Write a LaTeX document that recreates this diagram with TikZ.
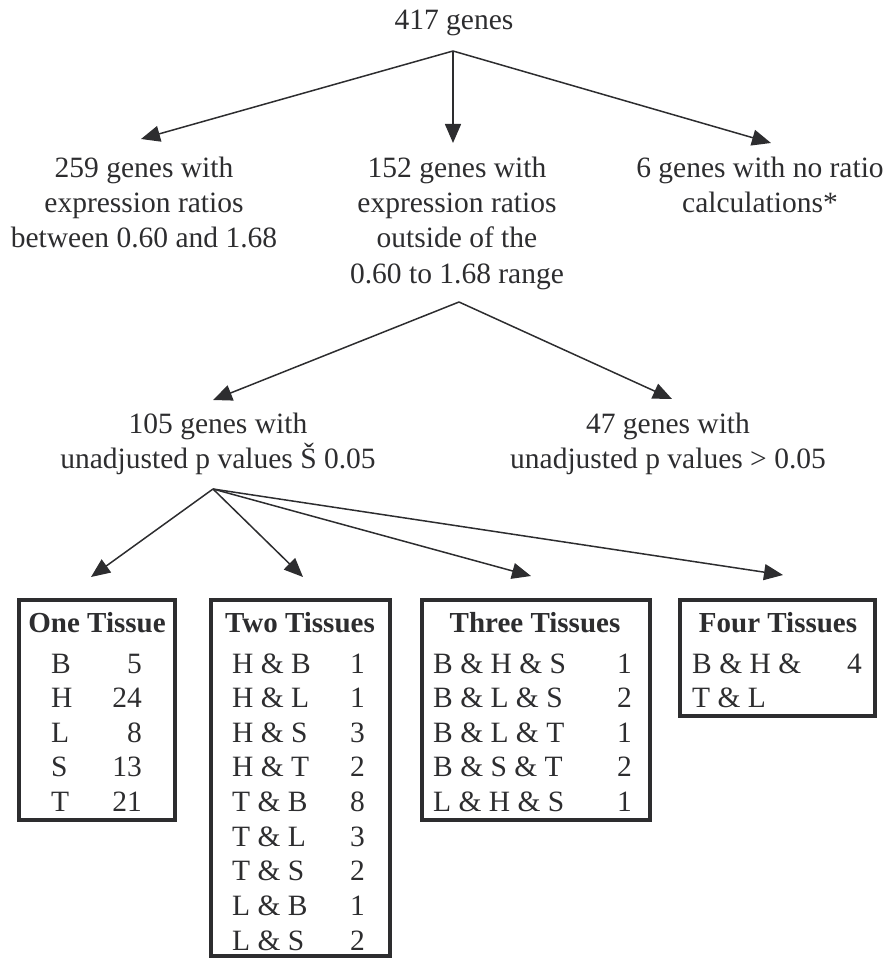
\documentclass[tikz,border=0pt]{standalone}
\usepackage{fontspec}
\setmainfont{Liberation Serif}
\usetikzlibrary{arrows.meta}
\definecolor{ink}{RGB}{45,45,47}
\begin{document}
\begin{tikzpicture}[x=1pt,y=-1pt,
  txt/.style={inner sep=0pt, anchor=base, text=ink, font=\fontsize{29.5}{35}\selectfont},
  ttl/.style={txt, font=\fontsize{29}{35}\selectfont\bfseries},
  lft/.style={txt, anchor=base west},
  rgt/.style={txt, anchor=base east},
  box/.style={draw=ink, line width=4pt, inner sep=0pt},
  arr/.style={draw=ink, line width=1.5pt, -{Triangle[length=19pt,width=16pt]}}]
\useasboundingbox (0,0) rectangle (885,960);

% level 0
\node[txt] (top) at (454,30) {417 genes};
% level 1
\node[txt] (n259) at (144,178) {\begin{tabular}[t]{@{}c@{}}259 genes with\\expression ratios\\between 0.60 and 1.68\end{tabular}};
\node[txt] (n152) at (457,178) {\begin{tabular}[t]{@{}c@{}}152 genes with\\expression ratios\\outside of the\\0.60 to 1.68 range\end{tabular}};
\node[txt] (n6) at (760,178) {\begin{tabular}[t]{@{}c@{}}6 genes with no ratio\\calculations*\end{tabular}};
% level 2
\node[txt] (n105) at (218,433) {\begin{tabular}[t]{@{}c@{}}105 genes with\\unadjusted p values Š 0.05\end{tabular}};
\node[txt] (n47) at (668,433) {\begin{tabular}[t]{@{}c@{}}47 genes with\\unadjusted p values > 0.05\end{tabular}};

% arrows
\coordinate (o0) at (453,51);
\coordinate (t259) at (141,139);
\coordinate (t152) at (453,143);
\coordinate (t6) at (771,143);
\draw[arr] (o0) -- (t259);
\draw[arr] (o0) -- (t152);
\draw[arr] (o0) -- (t6);

\coordinate (o1) at (459,302);
\coordinate (t105) at (213,400);
\coordinate (t47) at (672,399);
\draw[arr] (o1) -- (t105);
\draw[arr] (o1) -- (t47);

\coordinate (o2) at (213,489);
\coordinate (tb1) at (91,577);
\coordinate (tb2) at (303,577);
\coordinate (tb3) at (531,576);
\coordinate (tb4) at (783,575);
\draw[arr] (o2) -- (tb1);
\draw[arr] (o2) -- (tb2);
\draw[arr] (o2) -- (tb3);
\draw[arr] (o2) -- (tb4);

% boxes
\node[box, minimum width=156pt, minimum height=220pt] (box1) at (97,710) {};
\node[box, minimum width=179pt, minimum height=356pt] (box2) at (300.5,778) {};
\node[box, minimum width=228pt, minimum height=220pt] (box3) at (536,710) {};
\node[box, minimum width=195pt, minimum height=116pt] (box4) at (777.5,658) {};

\node[ttl] (h1) at (97,632) {One Tissue};
\node[ttl] (h2) at (300,632) {Two Tissues};
\node[ttl] (h3) at (535,632) {Three Tissues};
\node[ttl] (h4) at (778,632) {Four Tissues};

\foreach \n/\v [count=\i from 0] in {B/5,H/24,L/8,S/13,T/21} {
  \node[lft] (bal\i) at (51,{673+34.65*\i}) {\n};
  \node[rgt] (bar\i) at (142,{673+34.65*\i}) {\v};
}
\foreach \n/\v [count=\i from 0] in {H \& B/1,H \& L/1,H \& S/3,H \& T/2,T \& B/8,T \& L/3,T \& S/2,L \& B/1,L \& S/2} {
  \node[lft] (bbl\i) at (232,{673+34.65*\i}) {\n};
  \node[rgt] (bbr\i) at (365,{673+34.65*\i}) {\v};
}
\foreach \n/\v [count=\i from 0] in {B \& H \& S/1,B \& L \& S/2,B \& L \& T/1,B \& S \& T/2,L \& H \& S/1} {
  \node[lft] (bcl\i) at (433,{673+34.65*\i}) {\n};
  \node[rgt] (bcr\i) at (632,{673+34.65*\i}) {\v};
}
\node[lft] (bdl0) at (692,673) {B \& H \&};
\node[rgt] (bdr0) at (862,673) {4};
\node[lft] (bdl1) at (692,707) {T \& L};
\end{tikzpicture}
\end{document}
